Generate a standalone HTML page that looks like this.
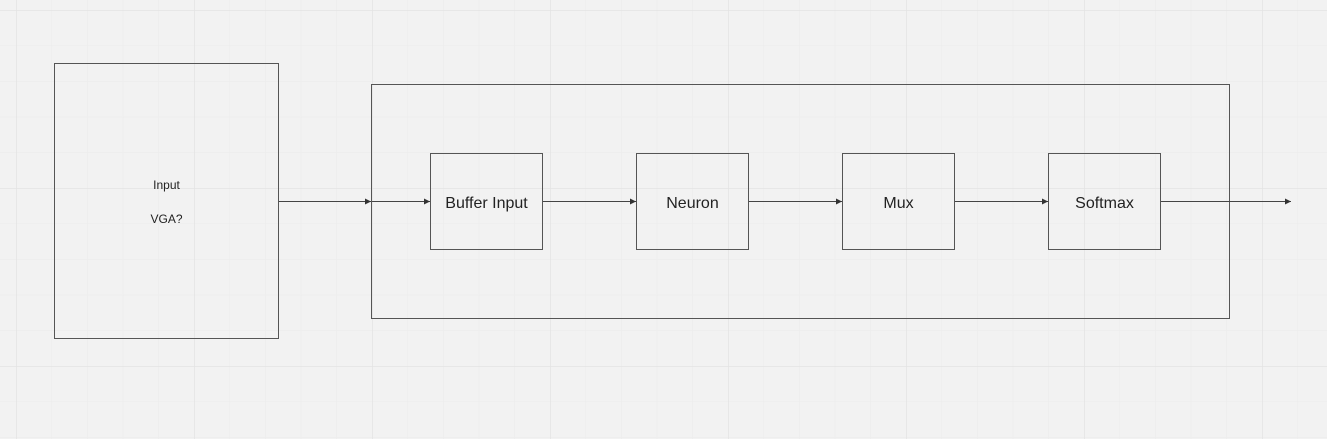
<!DOCTYPE html>
<html><head><style>
html,body{margin:0;padding:0;background:#f2f2f2;}
svg{display:block}
text{font-family:"Liberation Sans",sans-serif;fill:#222}
</style></head><body>
<svg width="1327" height="439" viewBox="0 0 1327 439" xmlns="http://www.w3.org/2000/svg">
<defs>
<pattern id="minor" x="16" y="10" width="35.6" height="35.6" patternUnits="userSpaceOnUse">
<path d="M0 0V35.6M0 0H35.6" stroke="#ebebeb" stroke-width="1" fill="none"/>
</pattern>
<pattern id="major" x="16" y="10" width="178" height="178" patternUnits="userSpaceOnUse">
<path d="M0 0V178M0 0H178" stroke="#e3e3e3" stroke-width="1.5" fill="none"/>
</pattern>
<marker id="a" markerWidth="8" markerHeight="8" refX="6" refY="3" orient="auto" markerUnits="userSpaceOnUse">
<path d="M0 0L6 3L0 6z" fill="#333"/>
</marker>
</defs>
<rect width="1327" height="439" fill="#f2f2f2"/>
<rect width="1327" height="439" fill="url(#minor)"/>
<rect width="1327" height="439" fill="url(#major)"/>
<g fill="none" stroke="#555" stroke-width="1">
<rect x="54.5" y="63.5" width="224" height="275"/>
<rect x="371.5" y="84.5" width="858" height="234"/>
<rect x="430.5" y="153.5" width="112" height="96"/>
<rect x="636.5" y="153.5" width="112" height="96"/>
<rect x="842.5" y="153.5" width="112" height="96"/>
<rect x="1048.5" y="153.5" width="112" height="96"/>
</g>
<g stroke="#444" stroke-width="1" marker-end="url(#a)">
<line x1="279" y1="201.5" x2="371" y2="201.5"/>
<line x1="372" y1="201.5" x2="430" y2="201.5"/>
<line x1="543" y1="201.5" x2="636" y2="201.5"/>
<line x1="749" y1="201.5" x2="842" y2="201.5"/>
<line x1="955" y1="201.5" x2="1048" y2="201.5"/>
<line x1="1161" y1="201.5" x2="1291" y2="201.5"/>
</g>
<text x="166.5" y="189" font-size="12" text-anchor="middle">Input</text>
<text x="166.5" y="223" font-size="12" text-anchor="middle">VGA?</text>
<text x="486.5" y="208" font-size="16" text-anchor="middle">Buffer Input</text>
<text x="692.5" y="208" font-size="16" text-anchor="middle">Neuron</text>
<text x="898.5" y="208" font-size="16" text-anchor="middle">Mux</text>
<text x="1104.5" y="208" font-size="16" text-anchor="middle">Softmax</text>
</svg>
</body></html>
